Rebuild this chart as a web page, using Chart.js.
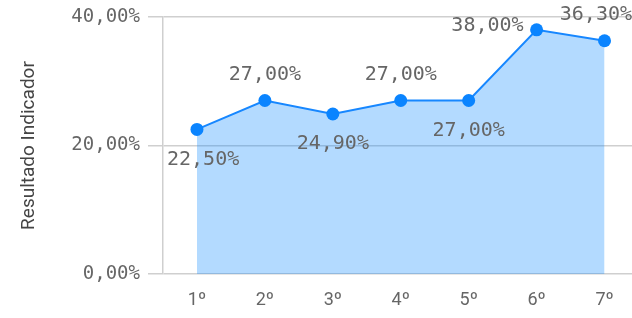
<!DOCTYPE html>
<html>
<head>
<meta charset="utf-8">
<script src="https://cdn.jsdelivr.net/npm/chart.js@4"></script>
<style>
  body { margin: 0; background: #fff; overflow: hidden; }
  #wrap { width: 645px; height: 318px; }
</style>
</head>
<body>
<div id="wrap"><canvas id="indicadorChart"></canvas></div>
<script>
const categorias = ['1º', '2º', '3º', '4º', '5º', '6º', '7º'];
const resultados = [22.5, 27.0, 24.9, 27.0, 27.0, 38.0, 36.3];
const posicoesRotulo = ['below', 'above', 'below', 'above', 'below', 'left', 'above'];
const ticksY = [0, 20, 40];
const larguraVisivel = 632;

const formatarPct = v => v.toFixed(2).replace('.', ',') + '%';

// rótulos de valor desenhados à mão (sem plugin datalabels)
const rotulosPlugin = {
    id: 'rotulos',
    afterDatasetsDraw(chart) {
        const ctx = chart.ctx;
        const meta = chart.getDatasetMeta(0);
        ctx.save();
        ctx.font = '20px "DejaVu Sans Mono"';
        ctx.fillStyle = '#666';
        ctx.textBaseline = 'middle';
        meta.data.forEach((pt, i) => {
            const txt = formatarPct(resultados[i]);
            const pos = posicoesRotulo[i];
            let x = pt.x, y = pt.y;
            ctx.textAlign = 'center';
            if (pos === 'above') y -= 26;
            if (pos === 'below') y += 30;
            if (pos === 'left') { ctx.textAlign = 'right'; x -= 13; y -= 4; }
            const w = ctx.measureText(txt).width;
            // mantém dentro da área visível
            if (ctx.textAlign === 'center' && x + w / 2 > larguraVisivel) x = larguraVisivel - w / 2;
            if (ctx.textAlign === 'center' && x - w / 2 < chart.chartArea.left + 4) x = chart.chartArea.left + 4 + w / 2;
            ctx.fillText(txt, x, y);
        });
        ctx.restore();
    }
};

new Chart(document.getElementById('indicadorChart').getContext('2d'), {
    type: 'line',
    data: {
        labels: categorias,
        datasets: [{
            label: 'Resultado Indicador',
            data: resultados,
            borderColor: '#1787ff',
            backgroundColor: 'rgba(20, 140, 255, 0.32)',
            borderWidth: 2,
            fill: 'origin',
            tension: 0,
            pointRadius: 6.5,
            pointHoverRadius: 6.5,
            pointBackgroundColor: '#0a84ff',
            pointBorderWidth: 0
        }]
    },
    options: {
        responsive: true,
        maintainAspectRatio: false,
        animation: false,
        layout: { padding: { top: 17, left: 10, right: 0, bottom: 0 } },
        plugins: {
            legend: { display: false },
            tooltip: { enabled: false }
        },
        scales: {
            x: {
                offset: true,
                grid: { display: false },
                border: { display: false },
                ticks: {
                    color: '#666',
                    font: { family: 'Roboto', size: 18 },
                    padding: 8
                },
                afterFit: s => { s.height = 44; s.paddingLeft = 0; s.paddingRight = 0; }
            },
            y: {
                min: 0,
                max: 40,
                afterBuildTicks: s => { s.ticks = ticksY.map(v => ({ value: v })); },
                grid: { color: '#cfcfcf', lineWidth: 1.5, tickLength: 15 },
                border: { color: '#cfcfcf', width: 1.5 },
                ticks: {
                    color: '#666',
                    font: { family: 'DejaVu Sans Mono', size: 19 },
                    padding: 8,
                    callback: v => formatarPct(v)
                },
                title: {
                    display: true,
                    text: 'Resultado Indicador',
                    color: '#444',
                    font: { family: 'Roboto', size: 19 },
                    padding: { top: 8, bottom: 0 }
                },
                afterFit: s => { s.width = 153; s.paddingTop = 0; s.paddingBottom = 0; }
            }
        }
    },
    plugins: [rotulosPlugin]
});
</script>
</body>
</html>
